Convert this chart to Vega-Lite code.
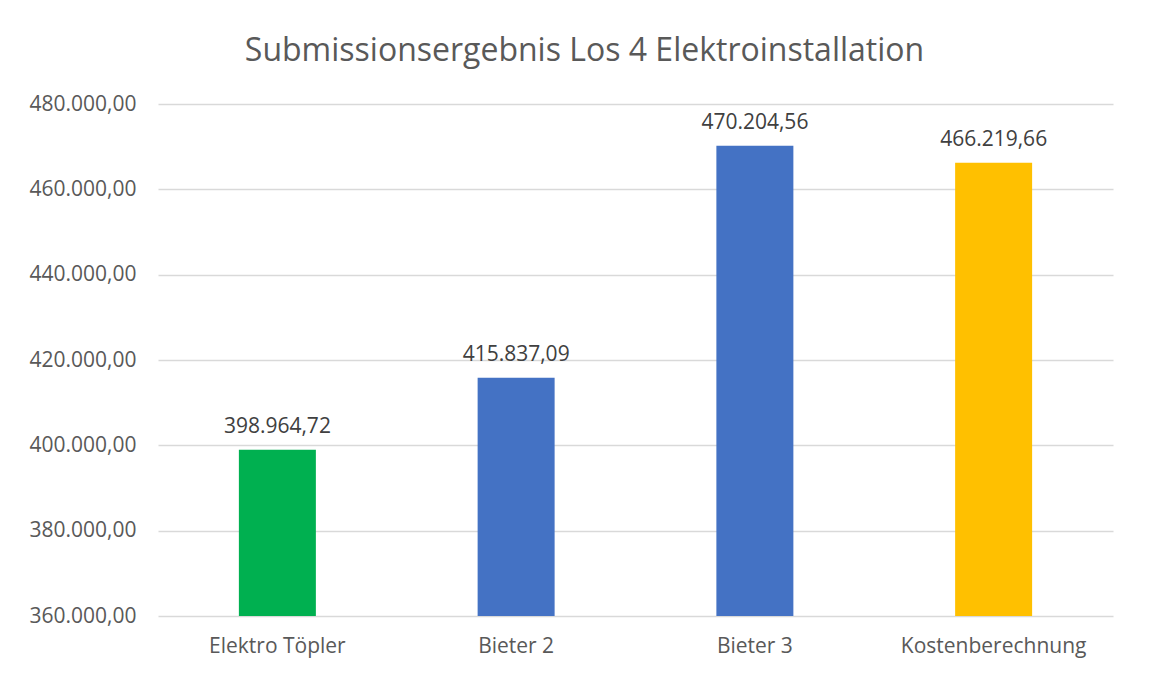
{
  "$schema": "https://vega.github.io/schema/vega-lite/v6.json",
  "width": 955,
  "height": 512,
  "autosize": {"type": "none"},
  "padding": {"left": 158, "top": 104, "right": 41, "bottom": 59},
  "background": "white",
  "title": {
    "text": "Submissionsergebnis Los 4 Elektroinstallation",
    "font": "Open Sans",
    "fontSize": 32,
    "fontWeight": "normal",
    "color": "#595959",
    "anchor": "middle",
    "baseline": "alphabetic",
    "offset": 0,
    "dx": -51
  },
  "config": {
    "locale": {"number": {"decimal": ",", "thousands": ".", "grouping": [3], "currency": ["", " €"]}},
    "view": {"stroke": null},
    "font": "Open Sans"
  },
  "data": {
    "values": [
      {"bieter": "Elektro Töpler", "betrag": 398964.72},
      {"bieter": "Bieter 2", "betrag": 415837.09},
      {"bieter": "Bieter 3", "betrag": 470204.56},
      {"bieter": "Kostenberechnung", "betrag": 466219.66}
    ]
  },
  "encoding": {
    "x": {
      "field": "bieter",
      "type": "nominal",
      "sort": null,
      "scale": {"paddingInner": 0.6775, "paddingOuter": 0.33875},
      "axis": {
        "title": null,
        "labelAngle": 0,
        "labelFont": "Open Sans",
        "labelFontSize": 21,
        "labelColor": "#595959",
        "labelPadding": 19,
        "labelLimit": 400,
        "ticks": false,
        "domain": false,
        "grid": false
      }
    },
    "y": {
      "field": "betrag",
      "type": "quantitative",
      "scale": {"domain": [360000, 480000], "nice": false, "zero": false},
      "axis": {
        "title": null,
        "values": [360000, 380000, 400000, 420000, 440000, 460000, 480000],
        "format": ",.2f",
        "labelFont": "Open Sans",
        "labelFontSize": 21,
        "labelColor": "#595959",
        "labelPadding": 22,
        "ticks": false,
        "domain": false,
        "gridColor": "#D9D9D9",
        "gridWidth": 1.5
      }
    }
  },
  "layer": [
    {
      "mark": {"type": "bar", "clip": true},
      "encoding": {
        "y2": {"datum": 360000},
        "color": {
          "field": "bieter",
          "type": "nominal",
          "scale": {
            "domain": ["Elektro Töpler", "Bieter 2", "Bieter 3", "Kostenberechnung"],
            "range": ["#00B050", "#4472C4", "#4472C4", "#FFC000"]
          },
          "legend": null
        }
      }
    },
    {
      "mark": {"type": "text", "baseline": "alphabetic", "dy": -17, "font": "Open Sans", "fontSize": 21, "color": "#404040"},
      "encoding": {
        "text": {"field": "betrag", "type": "quantitative", "format": ",.2f"}
      }
    }
  ]
}
